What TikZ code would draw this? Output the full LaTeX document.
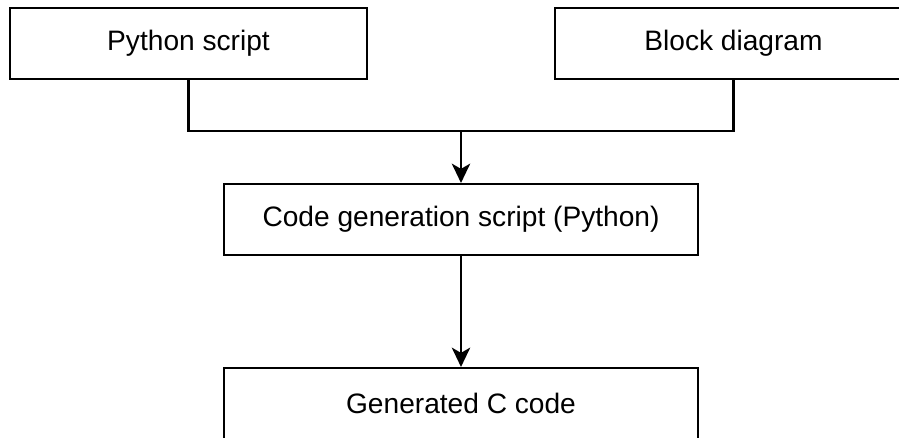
\documentclass[tikz,border=0pt]{standalone}
\usepackage{fontspec}
\setmainfont{Liberation Sans}
\usetikzlibrary{arrows.meta}
\begin{document}
\begin{tikzpicture}
  [line width=1.2pt,>={Stealth[length=11pt,width=10.5pt,inset=3pt]},
   every node/.style={rectangle,draw=black,line width=1.2pt,minimum height=1.42cm,font=\fontsize{16}{19}\selectfont}]
\useasboundingbox (0,0) rectangle (17.98,-8.76);
  \node (py) at (3.77,-0.87) [minimum width=7.14cm] {Python script};
  \node (blk) at (14.67,-0.87) [minimum width=7.14cm] {Block diagram};
  \node (gen) at (9.22,-4.39) [minimum width=9.48cm] {Code generation script (Python)};
  \node (cc) at (9.22,-8.07) [minimum width=9.48cm] {Generated C code};
  \coordinate (mid) at (9.22,-2.62);

  \draw (py.south) |- (mid) -| (blk.south);
  \foreach \from/\to in {mid/gen, gen/cc}
    \draw[->] (\from) -- (\to);
\end{tikzpicture}
\end{document}
